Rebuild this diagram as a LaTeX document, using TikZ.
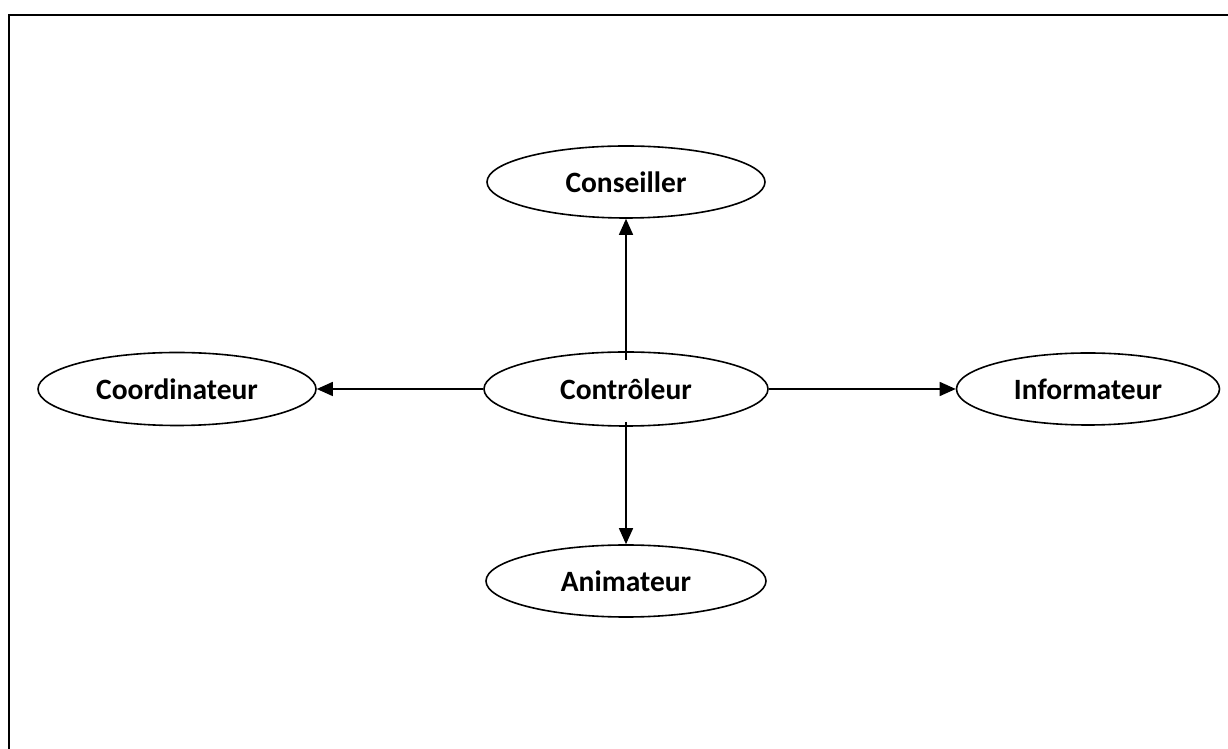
\documentclass[tikz,border=0pt]{standalone}
\usepackage{fontspec}
\setmainfont{Carlito}
\usetikzlibrary{arrows.meta}
\usetikzlibrary{shapes.geometric,calc,positioning}

\begin{document}
\begin{tikzpicture}[x=1pt,y=1pt,
    role/.style = {ellipse, draw=black, line width=1.6pt, inner sep=0pt,
        minimum width=278pt, minimum height=72pt,
        font=\fontsize{29.5}{35}\selectfont\bfseries},
    link/.style = {->, line width=1.5pt},
    >={Triangle[length=16pt,width=14pt]}]
    \useasboundingbox (0,0) rectangle (1228,749);
    % frame
    \draw[line width=2.2pt] (9,0) -- (9,734) -- (1228,734);
    % roles
    \node [role, minimum width=284pt, minimum height=74pt] (ctrl) at (626,360) {Contrôleur};
    \node [role] (cons) at (626,567) {Conseiller};
    \node [role, minimum height=73pt] (coord) at (177,360) {Coordinateur};
    \node [role, minimum width=263pt] (info) at (1088,360) {Informateur};
    \node [role, minimum width=280pt] (anim) at (626,168) {Animateur};
    % arrows
    \coordinate (ctrltop) at ($(ctrl.north)+(0,-9)$);
    \coordinate (ctrlbot) at ($(ctrl.south)+(0,5)$);
    \draw [link] (ctrltop) -- (cons.south);
    \draw [link] (ctrlbot) -- (anim.north);
    \draw [link] (ctrl.west) -- (coord.east);
    \draw [link] (ctrl.east) -- (info.west);
\end{tikzpicture}
\end{document}
